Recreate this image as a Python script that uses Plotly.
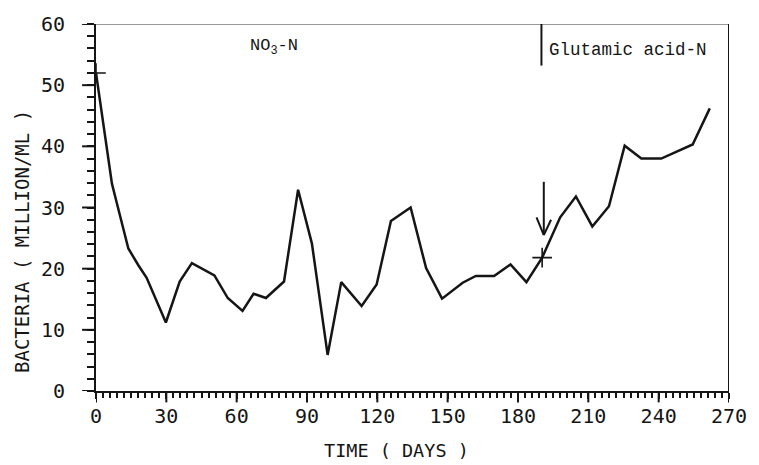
import plotly.graph_objects as go

# Bacterial count over time (million cells per mL)
days = [0, 6.8, 8.9, 13.8, 18.0, 21.6, 29.8, 35.7, 40.9, 50.5, 56.2, 62.5, 67.2,
        72.5, 80.2, 86.2, 92.1, 98.8, 104.6, 113.3, 119.7, 125.8, 134.2, 140.8,
        147.6, 152.2, 156.4, 162.0, 169.8, 176.8, 183.6, 190.3, 198.0, 204.7,
        211.7, 218.8, 225.5, 232.6, 241.1, 254.5, 261.8]
bacteria = [52.0, 33.9, 30.7, 23.3, 20.6, 18.5, 11.2, 17.9, 20.9, 18.9, 15.2, 13.1,
            15.9, 15.2, 17.9, 32.9, 24.1, 5.9, 17.8, 13.9, 17.4, 27.8, 30.0, 20.1,
            15.1, 16.4, 17.7, 18.8, 18.8, 20.7, 17.8, 21.8, 28.4, 31.8, 26.9, 30.2,
            40.1, 38.0, 38.0, 40.3, 46.2]

# Points flagged with a "+" (start of run, switch of nitrogen source)
marked_idx = [0, 31]
marked_days = [days[i] for i in marked_idx]
marked_vals = [bacteria[i] for i in marked_idx]

# Day on which the nitrogen source was changed
switch_day = 190
arrow_day = 191
arrow_tip, arrow_tail = 25.5, 34.2

x_ticks = list(range(0, 271, 30))
y_ticks = list(range(0, 61, 10))

ink = "#151515"
plot_font = "DejaVu Sans Mono"
type_font = "Liberation Mono"

fig = go.Figure()
fig.add_trace(go.Scatter(x=days, y=bacteria, mode="lines",
                         line=dict(color=ink, width=2.5), showlegend=False,
                         hoverinfo="skip"))
fig.add_trace(go.Scatter(x=marked_days, y=marked_vals, mode="markers",
                         marker=dict(symbol="cross-thin", size=14,
                                     line=dict(color=ink, width=1.6)),
                         showlegend=False, hoverinfo="skip"))

# Major tick marks drawn separately so the label spacing can differ from
# the visible tick length
for t in x_ticks:
    fig.add_shape(type="line", xref="x", yref="y domain", x0=t, x1=t,
                  y0=0, y1=-0.031, line=dict(color=ink, width=2))
for v in y_ticks:
    fig.add_shape(type="line", xref="x domain", yref="y", x0=0, x1=-0.022,
                  y0=v, y1=v, line=dict(color=ink, width=2))

# Top and right frame lines
fig.add_shape(type="line", xref="x", yref="y", x0=0, x1=270, y0=60, y1=60,
              line=dict(color="#333", width=1.2))
fig.add_shape(type="line", xref="x", yref="y", x0=270, x1=270, y0=0, y1=60,
              line=dict(color=ink, width=2))
# Divider marking the start of the glutamic acid period
fig.add_shape(type="line", xref="x", yref="y", x0=switch_day, x1=switch_day,
              y0=53.2, y1=60, line=dict(color=ink, width=2))

# Open arrow pointing at the switch: shaft plus two barbs
barb_dx, barb_dy = 3.1, 2.9
arrow_style = dict(color=ink, width=2)
fig.add_shape(type="line", xref="x", yref="y", x0=arrow_day, x1=arrow_day,
              y0=arrow_tail, y1=arrow_tip, line=arrow_style)
fig.add_shape(type="line", xref="x", yref="y", x0=arrow_day - barb_dx,
              x1=arrow_day, y0=arrow_tip + barb_dy, y1=arrow_tip, line=arrow_style)
fig.add_shape(type="line", xref="x", yref="y", x0=arrow_day + barb_dx,
              x1=arrow_day, y0=arrow_tip + barb_dy - 0.4, y1=arrow_tip,
              line=arrow_style)

fig.add_annotation(x=65, y=56.3, xref="x", yref="y", text="NO<sub>3</sub>-N",
                   showarrow=False, xanchor="left", yanchor="middle",
                   font=dict(family=type_font, size=17, color=ink))
fig.add_annotation(x=192.2, y=55.7, xref="x", yref="y", text="Glutamic acid-N",
                   showarrow=False, xanchor="left", yanchor="middle",
                   font=dict(family=type_font, size=17.5, color=ink))

# Axis titles
fig.add_annotation(x=0.474, y=0, xref="paper", yref="paper", text="TIME ( DAYS )",
                   showarrow=False, xanchor="center", yanchor="middle", yshift=-59,
                   font=dict(family=plot_font, size=18.5, color=ink))
fig.add_annotation(x=0, y=0.406, xref="paper", yref="paper",
                   text="BACTERIA ( MILLION/ML )", textangle=-90,
                   showarrow=False, xanchor="center", yanchor="middle", xshift=-74,
                   font=dict(family=plot_font, size=19, color=ink))

fig.update_xaxes(range=[0, 270], tickmode="array", tickvals=x_ticks,
                 ticktext=[str(t) for t in x_ticks],
                 showgrid=False, zeroline=False, showline=True, linecolor=ink,
                 linewidth=2, ticks="outside", ticklen=6, tickwidth=2,
                 tickcolor=ink,
                 tickfont=dict(family=plot_font, size=20, color=ink),
                 minor=dict(dtick=3, tick0=0, ticks="outside", ticklen=5,
                            tickwidth=1.6, tickcolor=ink, showgrid=False))
fig.update_yaxes(range=[0, 60], tickmode="array", tickvals=y_ticks,
                 ticktext=[str(t) for t in y_ticks],
                 showgrid=False, zeroline=False, showline=True, linecolor=ink,
                 linewidth=2, ticks="outside", ticklen=25, tickwidth=2,
                 tickcolor="rgba(0,0,0,0)",
                 tickfont=dict(family=plot_font, size=20, color=ink),
                 minor=dict(dtick=2, tick0=0, ticks="outside", ticklen=7,
                            tickwidth=1.6, tickcolor=ink, showgrid=False))

fig.update_layout(width=759, height=465, paper_bgcolor="white",
                  plot_bgcolor="white",
                  margin=dict(l=96, r=26, t=16, b=74))

fig.write_html("out.html")
